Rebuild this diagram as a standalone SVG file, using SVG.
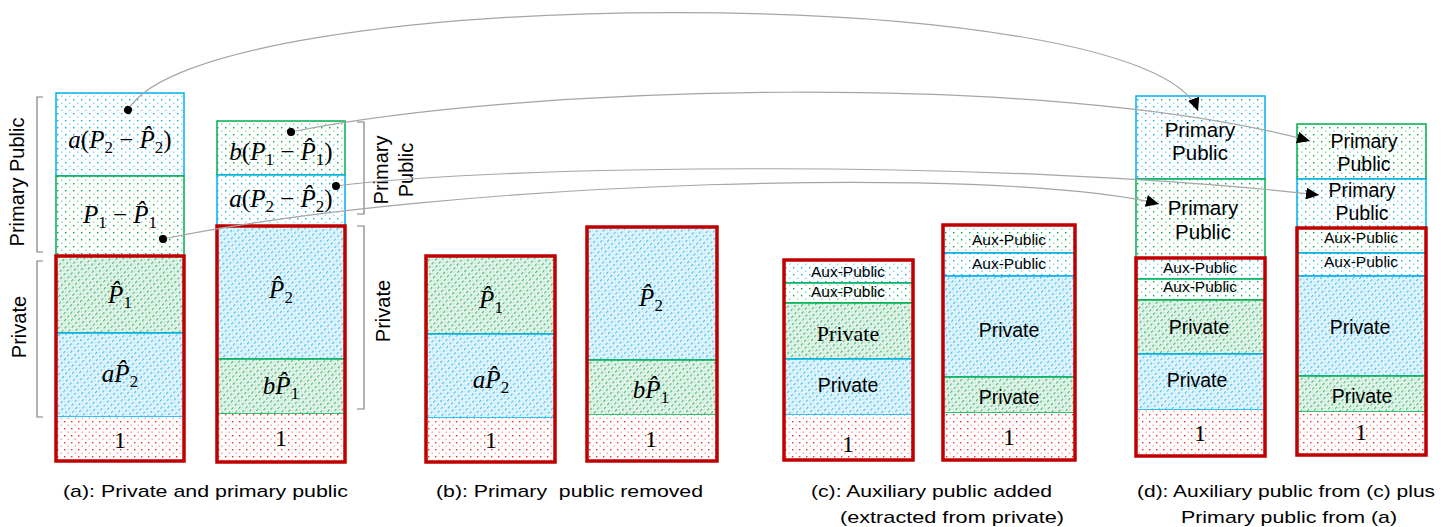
<svg xmlns="http://www.w3.org/2000/svg" width="1450" height="527" viewBox="0 0 1450 527">
<defs>
<pattern id="dotB" width="8" height="7" patternUnits="userSpaceOnUse">
<rect width="8" height="7" fill="#ffffff"/>
<rect x="1" y="1" width="1.4" height="1.4" fill="#00b0f0"/>
<rect x="5" y="4.5" width="1.4" height="1.4" fill="#7fd6f7"/>
</pattern>
<pattern id="dotG" width="8" height="7" patternUnits="userSpaceOnUse">
<rect width="8" height="7" fill="#ffffff"/>
<rect x="1" y="1" width="1.4" height="1.4" fill="#00b050"/>
<rect x="5" y="4.5" width="1.4" height="1.4" fill="#7fd6a6"/>
</pattern>
<pattern id="dotR" width="7" height="7" patternUnits="userSpaceOnUse">
<rect width="7" height="7" fill="#ffffff"/>
<rect x="1" y="1" width="1.4" height="1.4" fill="#ff2a2a"/>
<rect x="4.5" y="4.5" width="1.4" height="1.4" fill="#ff9a9a"/>
</pattern>
<pattern id="hatB" width="5" height="5" patternUnits="userSpaceOnUse" patternTransform="rotate(-50)">
<rect width="5" height="5" fill="#e8f7fd"/>
<rect x="0" y="0" width="3" height="1.2" fill="#4cc2f1"/>
<rect x="2.5" y="2.5" width="2.5" height="0.9" fill="#a3dff7"/>
</pattern>
<pattern id="hatG" width="5" height="5" patternUnits="userSpaceOnUse" patternTransform="rotate(-50)">
<rect width="5" height="5" fill="#e9f6ee"/>
<rect x="0" y="0" width="3" height="1.2" fill="#4cbd7c"/>
<rect x="2.5" y="2.5" width="2.5" height="0.9" fill="#a6dcbb"/>
</pattern>
<marker id="dot" markerUnits="userSpaceOnUse" markerWidth="10" markerHeight="10" refX="5" refY="5" orient="auto">
<circle cx="5" cy="5" r="4" fill="#000"/>
</marker>
<marker id="arr" markerUnits="userSpaceOnUse" markerWidth="14" markerHeight="12" refX="13" refY="6" orient="auto">
<path d="M0,0 L13,6 L0,12 Z" fill="#000"/>
</marker>
</defs>
<style>
.sb{fill:url(#dotB);stroke:#00b0f0;stroke-width:1.5}
.sg{fill:url(#dotG);stroke:#00b050;stroke-width:1.5}
.sr{fill:url(#dotR);stroke:none}
.hb{fill:url(#hatB);stroke:#00b0f0;stroke-width:1.5}
.hg{fill:url(#hatG);stroke:#00b050;stroke-width:1.5}
.rb{fill:none;stroke:#c00000;stroke-width:3.5}
.m{font-family:"Liberation Serif",serif;font-size:25px;fill:#000;text-anchor:middle}
.i{font-style:italic}
.s{font-size:17px}
.one{font-family:"Liberation Serif",serif;font-size:24px;fill:#000;text-anchor:middle}
.pp{font-family:"Liberation Sans",sans-serif;font-size:20.5px;fill:#000;text-anchor:middle}
.pq{font-family:"Liberation Sans",sans-serif;font-size:19.5px;fill:#000;text-anchor:middle}
.aux{font-family:"Liberation Sans",sans-serif;font-size:15.5px;fill:#000;text-anchor:middle}
.pv{font-family:"Liberation Sans",sans-serif;font-size:19.5px;fill:#000;text-anchor:middle}
.pvs{font-family:"Liberation Serif",serif;font-size:22px;fill:#000;text-anchor:middle}
.lb{font-family:"Liberation Sans",sans-serif;font-size:20px;fill:#000;text-anchor:middle}
.cap{font-family:"Liberation Sans",sans-serif;font-size:17px;fill:#000}
.br{fill:none;stroke:#808080;stroke-width:1.2}
.cn{fill:none;stroke:#a6a6a6;stroke-width:1.2;marker-start:url(#dot);marker-end:url(#arr)}
</style>

<!-- (a) left stack -->
<g id="a-left">
<rect class="sb" x="56" y="93" width="128" height="83"/>
<text class="m" x="120" y="148"><tspan class="i">a</tspan>(<tspan class="i">P</tspan><tspan class="s" dy="5">2</tspan><tspan dy="-5"> − </tspan><tspan class="i">P̂</tspan><tspan class="s" dy="5">2</tspan><tspan dy="-5">)</tspan></text>
<rect class="sg" x="56" y="176" width="128" height="80"/>
<text class="m" x="120" y="223"><tspan class="i">P</tspan><tspan class="s" dy="5">1</tspan><tspan dy="-5"> − </tspan><tspan class="i">P̂</tspan><tspan class="s" dy="5">1</tspan></text>
<rect class="hg" x="56" y="256" width="128" height="77"/>
<text class="m" x="120" y="303"><tspan class="i">P̂</tspan><tspan class="s" dy="5">1</tspan></text>
<rect class="hb" x="56" y="333" width="128" height="84"/>
<text class="m" x="120" y="382"><tspan class="i">aP̂</tspan><tspan class="s" dy="5">2</tspan></text>
<rect class="sr" x="56" y="417" width="128" height="44"/>
<text class="one" x="120" y="448">1</text>
<rect class="rb" x="56" y="256" width="128" height="205"/>
</g>

<!-- (a) right stack -->
<g id="a-right">
<rect class="sg" x="217" y="121" width="128" height="54"/>
<text class="m" x="281" y="160"><tspan class="i">b</tspan>(<tspan class="i">P</tspan><tspan class="s" dy="5">1</tspan><tspan dy="-5"> − </tspan><tspan class="i">P̂</tspan><tspan class="s" dy="5">1</tspan><tspan dy="-5">)</tspan></text>
<rect class="sb" x="217" y="175" width="128" height="51"/>
<text class="m" x="281" y="207"><tspan class="i">a</tspan>(<tspan class="i">P</tspan><tspan class="s" dy="5">2</tspan><tspan dy="-5"> − </tspan><tspan class="i">P̂</tspan><tspan class="s" dy="5">2</tspan><tspan dy="-5">)</tspan></text>
<rect class="hb" x="217" y="226" width="128" height="133"/>
<text class="m" x="281" y="298"><tspan class="i">P̂</tspan><tspan class="s" dy="5">2</tspan></text>
<rect class="hg" x="217" y="359" width="128" height="55"/>
<text class="m" x="281" y="394"><tspan class="i">bP̂</tspan><tspan class="s" dy="5">1</tspan></text>
<rect class="sr" x="217" y="414" width="128" height="48"/>
<text class="one" x="281" y="446">1</text>
<rect class="rb" x="217" y="226" width="128" height="236"/>
</g>

<!-- brackets and side labels -->
<g id="a-labels">
<path class="br" d="M43,97 H37 V252 H43"/>
<path class="br" d="M43,261 H37 V417 H43"/>
<path class="br" d="M357,122 H364 V214 H357"/>
<path class="br" d="M357,226 H364 V409 H357"/>
<text class="lb" transform="translate(24,182) rotate(-90)">Primary Public</text>
<text class="lb" transform="translate(26,327) rotate(-90)">Private</text>
<text class="lb" transform="translate(388,170) rotate(-90)">Primary</text>
<text class="lb" transform="translate(413,170) rotate(-90)">Public</text>
<text class="lb" transform="translate(390,311) rotate(-90)">Private</text>
</g>

<!-- (b) -->
<g id="b-left">
<rect class="hg" x="426" y="256" width="129" height="78"/>
<text class="m" x="491" y="308"><tspan class="i">P̂</tspan><tspan class="s" dy="5">1</tspan></text>
<rect class="hb" x="426" y="334" width="129" height="84"/>
<text class="m" x="491" y="388"><tspan class="i">aP̂</tspan><tspan class="s" dy="5">2</tspan></text>
<rect class="sr" x="426" y="418" width="129" height="44"/>
<text class="one" x="491" y="448">1</text>
<rect class="rb" x="426" y="256" width="129" height="206"/>
</g>
<g id="b-right">
<rect class="hb" x="587" y="227" width="130" height="133"/>
<text class="m" x="651" y="306"><tspan class="i">P̂</tspan><tspan class="s" dy="5">2</tspan></text>
<rect class="hg" x="587" y="360" width="130" height="55"/>
<text class="m" x="651" y="398"><tspan class="i">bP̂</tspan><tspan class="s" dy="5">1</tspan></text>
<rect class="sr" x="587" y="415" width="130" height="46"/>
<text class="one" x="651" y="447">1</text>
<rect class="rb" x="587" y="227" width="130" height="234"/>
</g>

<!-- (c) -->
<g id="c-left">
<rect class="sb" x="784" y="260" width="129" height="23"/>
<text class="aux" x="848" y="277">Aux-Public</text>
<rect class="sg" x="784" y="283" width="129" height="20"/>
<text class="aux" x="848" y="297">Aux-Public</text>
<rect class="hg" x="784" y="303" width="129" height="56"/>
<text class="pvs" x="848" y="341">Private</text>
<rect class="hb" x="784" y="359" width="129" height="56"/>
<text class="pv" x="848" y="392">Private</text>
<rect class="sr" x="784" y="415" width="129" height="45"/>
<text class="one" x="848" y="452">1</text>
<rect class="rb" x="784" y="260" width="129" height="200"/>
</g>
<g id="c-right">
<rect class="sg" x="943" y="225" width="132" height="28"/>
<text class="aux" x="1009" y="245">Aux-Public</text>
<rect class="sb" x="943" y="253" width="132" height="23"/>
<text class="aux" x="1009" y="269">Aux-Public</text>
<rect class="hb" x="943" y="276" width="132" height="101"/>
<text class="pv" x="1009" y="337">Private</text>
<rect class="hg" x="943" y="377" width="132" height="36"/>
<text class="pv" x="1009" y="404">Private</text>
<rect class="sr" x="943" y="413" width="132" height="47"/>
<text class="one" x="1009" y="445">1</text>
<rect class="rb" x="943" y="225" width="132" height="235"/>
</g>

<!-- (d) -->
<g id="d-left">
<rect class="sb" x="1136" y="96" width="129" height="83"/>
<text class="pp" x="1200" y="137">Primary</text>
<text class="pp" x="1200" y="160">Public</text>
<rect class="sg" x="1136" y="179" width="129" height="79"/>
<text class="pp" x="1203" y="215">Primary</text>
<text class="pp" x="1203" y="239">Public</text>
<rect class="sb" x="1136" y="258" width="129" height="21"/>
<text class="aux" x="1200" y="273">Aux-Public</text>
<rect class="sg" x="1136" y="279" width="129" height="21"/>
<text class="aux" x="1200" y="292">Aux-Public</text>
<rect class="hg" x="1136" y="300" width="129" height="54"/>
<text class="pv" x="1199" y="334">Private</text>
<rect class="hb" x="1136" y="354" width="129" height="56"/>
<text class="pv" x="1197" y="387">Private</text>
<rect class="sr" x="1136" y="410" width="129" height="46"/>
<text class="one" x="1200" y="441">1</text>
<rect class="rb" x="1136" y="258" width="129" height="198"/>
</g>
<g id="d-right">
<rect class="sg" x="1297" y="124" width="129" height="55"/>
<text class="pq" x="1364" y="148">Primary</text>
<text class="pq" x="1364" y="171">Public</text>
<rect class="sb" x="1297" y="179" width="129" height="49"/>
<text class="pq" x="1362" y="197">Primary</text>
<text class="pq" x="1362" y="220">Public</text>
<rect class="sg" x="1297" y="228" width="129" height="25"/>
<text class="aux" x="1361" y="243">Aux-Public</text>
<rect class="sb" x="1297" y="253" width="129" height="23"/>
<text class="aux" x="1361" y="267">Aux-Public</text>
<rect class="hb" x="1297" y="276" width="129" height="100"/>
<text class="pv" x="1360" y="334">Private</text>
<rect class="hg" x="1297" y="376" width="129" height="36"/>
<text class="pv" x="1362" y="403">Private</text>
<rect class="sr" x="1297" y="412" width="129" height="43"/>
<text class="one" x="1361" y="440">1</text>
<rect class="rb" x="1297" y="228" width="129" height="227"/>
</g>

<!-- connectors -->
<g id="connectors">
<path class="cn" d="M128,110 C200,-18 1150,-22 1198,111"/>
<path class="cn" d="M291,132 C520,85 1050,70 1310,141"/>
<path class="cn" d="M336,186 C500,165 1000,158 1319,195"/>
<path class="cn" d="M163,239 C450,180 1000,165 1159,204"/>
</g>

<!-- captions -->
<g id="captions">
<text class="cap" x="63" y="497" textLength="285" lengthAdjust="spacingAndGlyphs">(a): Private and primary public</text>
<text class="cap" x="436" y="497" textLength="267" lengthAdjust="spacingAndGlyphs" xml:space="preserve">(b): Primary  public removed</text>
<text class="cap" x="811" y="497" textLength="241" lengthAdjust="spacingAndGlyphs">(c): Auxiliary public added</text>
<text class="cap" x="840" y="523" textLength="224" lengthAdjust="spacingAndGlyphs">(extracted from private)</text>
<text class="cap" x="1137" y="497" textLength="298" lengthAdjust="spacingAndGlyphs">(d): Auxiliary public from (c) plus</text>
<text class="cap" x="1181" y="523" textLength="216" lengthAdjust="spacingAndGlyphs">Primary public from (a)</text>
</g>
</svg>
